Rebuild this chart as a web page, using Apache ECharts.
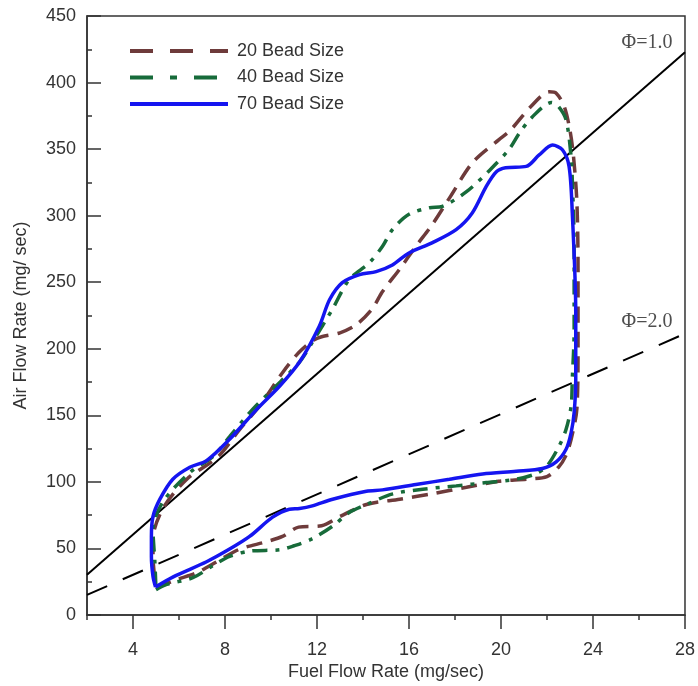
<!DOCTYPE html>
<html><head><meta charset="utf-8">
<script src="https://cdn.jsdelivr.net/npm/echarts@6/dist/echarts.min.js"></script>
<style>html,body{margin:0;padding:0;background:#fff}#c{width:698px;height:686px}</style>
</head><body><div id="c"></div><script>
// tick labels (every 2 units; only multiples of 4 are labelled)
const xTickLabels = ['2','4','6','8','10','12','14','16','18','20','22','24','26','28'];
const seriesNames = ['20 Bead Size', '40 Bead Size', '70 Bead Size'];

// 20 bead size loop [fuel, air]
const bead20 = [[5.0,20],[5.8,26],[6.8,32],[7.64,40],[8.64,49.5],[9.8,55],[10.5,59],[11.2,66],[12.2,67],[13.0,74],[14.15,83],[15.6,87],[17.0,91],[18.5,96],[19.9,100.5],[21.1,102],[22.0,104],[22.5,111],[22.8,119],[23.05,132],[23.3,155],[23.35,200],[23.35,260],[23.3,310],[23.15,345],[23.0,364],[22.75,382],[22.4,392],[22.1,393],[21.3,382],[20.4,364],[19.9,357],[18.77,340],[17.75,313],[17.0,293],[16.3,277],[15.6,260],[14.85,243],[14.4,230],[13.7,218],[13.0,212],[12.2,209],[11.8,206],[11.2,197],[10.5,182],[9.5,157],[8.64,139.5],[7.7,119],[6.34,102],[5.3,80],[4.87,57],[4.87,44],[5.0,20]];
// 40 bead size loop
const bead40 = [[5.0,19],[5.47,23],[6.6,28],[7.47,37],[8.2,44],[9.07,48],[10.38,49],[11.0,52],[11.76,57],[12.7,67],[13.4,77],[14.15,83],[15.3,91],[16.6,94.5],[18.05,97],[19.36,99.5],[20.66,102],[21.5,106],[22.0,112],[22.53,127],[22.83,139.5],[23.05,157],[23.1,177],[23.18,214],[23.18,277],[23.1,327],[23.05,344],[22.83,372],[22.5,382],[22.2,385],[21.35,374],[20.8,362],[20.36,350],[19.5,334],[18.5,318],[17.45,307],[16.9,306],[16.0,301],[15.28,289.5],[14.85,277],[14.28,264.7],[13.4,252],[12.68,230],[11.8,205],[11.24,190],[10.07,169.5],[9.2,154.5],[8.2,134],[7.47,119],[6.47,107],[5.3,85],[4.87,64.5],[4.95,40],[5.0,19]];
// 70 bead size loop
const bead70 = [[4.98,21],[5.73,28.5],[7.2,40],[8.2,49.5],[9.07,59],[10.07,73.5],[10.8,79.5],[11.24,80],[11.8,82],[12.68,87],[14.15,93],[14.85,94],[16.3,98],[17.76,102],[19.2,106],[20.66,108],[21.8,110],[22.4,115],[22.83,124.5],[23.05,137],[23.18,152],[23.25,177],[23.25,227],[23.1,302],[22.96,337],[22.67,349.5],[22.24,353],[21.66,345.6],[21.1,337],[20.2,336],[19.8,333],[19.36,322],[18.75,302],[18.05,289.5],[17.0,279.6],[16.0,272],[15.28,263],[14.57,258],[13.85,255.7],[13.1,249.7],[12.55,237],[12.1,217],[11.24,190],[10.38,172],[9.38,154.5],[8.2,132],[7.2,116],[6.47,111],[5.73,102],[5.17,87],[4.87,74],[4.8,59],[4.8,44],[4.87,29],[4.98,21]];

// equivalence-ratio reference lines
const phi1Line = [[2,30.2],[28,422.8]];
const phi2Line = [[2,15.1],[28,211.4]];
const phiLabels = [{name:'\u03A6=1.0', value:[26.35,430]},{name:'\u03A6=2.0', value:[26.35,220.5]}];

const textColor = '#333';
const font = 'Liberation Sans, Arial, sans-serif';
const chart = echarts.init(document.getElementById('c'), null, {renderer:'canvas'});
const isMajor = (i, v) => (+v) % 4 === 0;
const hideSym = {opacity: 0};

chart.setOption({
  animation: false,
  backgroundColor: '#fff',
  grid: {left: 87, right: 12, top: 16, bottom: 70, show: true, borderColor: '#333', borderWidth: 1.5, backgroundColor: 'transparent'},
  legend: {
    data: [
      {name: seriesNames[0], itemStyle: hideSym, lineStyle: {type: [23,17], width: 4, color: '#6E3B3B'}},
      {name: seriesNames[1], itemStyle: hideSym, lineStyle: {type: [23,17,7,17], width: 4, color: '#176B3A'}},
      {name: seriesNames[2], itemStyle: hideSym, lineStyle: {type: 'solid', width: 4, color: '#1515F0'}}
    ],
    orient: 'vertical', left: 123, top: 36,
    itemWidth: 98, itemHeight: 14, itemGap: 6.5,
    textStyle: {fontSize: 18, color: textColor, fontFamily: font, lineHeight: 20, padding: [0,0,0,4]}
  },
  xAxis: [
    {
      type: 'value', min: 2, max: 28, interval: 2, position: 'bottom',
      axisLine: {show: true, lineStyle: {color: '#333', width: 1.5}},
      axisTick: {show: true, inside: false, length: 5, lineStyle: {color: '#333', width: 1.5}},
      axisLabel: {show: false},
      splitLine: {show: false},
      name: 'Fuel Flow Rate (mg/sec)', nameLocation: 'middle', nameGap: 48,
      nameTextStyle: {fontSize: 18, color: textColor, fontFamily: font}
    },
    {
      type: 'category', data: xTickLabels, boundaryGap: false, position: 'bottom',
      axisLine: {show: false},
      axisTick: {show: true, inside: false, length: 14, interval: isMajor, lineStyle: {color: '#333', width: 1.5}},
      axisLabel: {show: true, interval: isMajor, margin: 26, fontSize: 18, color: textColor, fontFamily: font},
      splitLine: {show: false}
    }
  ],
  yAxis: {
    type: 'value', min: 0, max: 450, interval: 50,
    axisLine: {show: true, lineStyle: {color: '#333', width: 1.5}},
    axisTick: {show: true, inside: true, length: 14, lineStyle: {color: '#333', width: 1.5}},
    minorTick: {show: true, splitNumber: 2, length: 5, lineStyle: {color: '#333', width: 1.5}},
    axisLabel: {margin: 11, fontSize: 18, color: textColor, fontFamily: font},
    splitLine: {show: false},
    name: 'Air Flow Rate (mg/ sec)', nameLocation: 'middle', nameGap: 57,
    nameTextStyle: {fontSize: 18, color: textColor, fontFamily: font}
  },
  series: [
    {name: 'phi1', type: 'line', data: phi1Line, symbol: 'none', silent: true,
     lineStyle: {color: '#000', width: 2}},
    {name: 'phi2', type: 'line', data: phi2Line, symbol: 'none', silent: true,
     lineStyle: {color: '#000', width: 2, type: [22,17]}},
    {name: 'phiLabels', type: 'scatter', data: phiLabels, symbolSize: 0, silent: true,
     label: {show: true, position: 'inside', formatter: p => p.name, fontSize: 20, color: '#222', fontFamily: 'Liberation Serif, Times New Roman, serif'}},
    {name: seriesNames[0], type: 'line', data: bead20, symbol: 'none', smooth: 0.3,
     lineStyle: {color: '#6E3B3B', width: 3.5, type: [16,9]}, itemStyle: {color: '#6E3B3B'}},
    {name: seriesNames[1], type: 'line', data: bead40, symbol: 'none', smooth: 0.3,
     lineStyle: {color: '#176B3A', width: 3.5, type: [15,8,4,8]}, itemStyle: {color: '#176B3A'}},
    {name: seriesNames[2], type: 'line', data: bead70, symbol: 'none', smooth: 0.3,
     lineStyle: {color: '#1515F0', width: 3.5}, itemStyle: {color: '#1515F0'}}
  ]
});
</script></body></html>
